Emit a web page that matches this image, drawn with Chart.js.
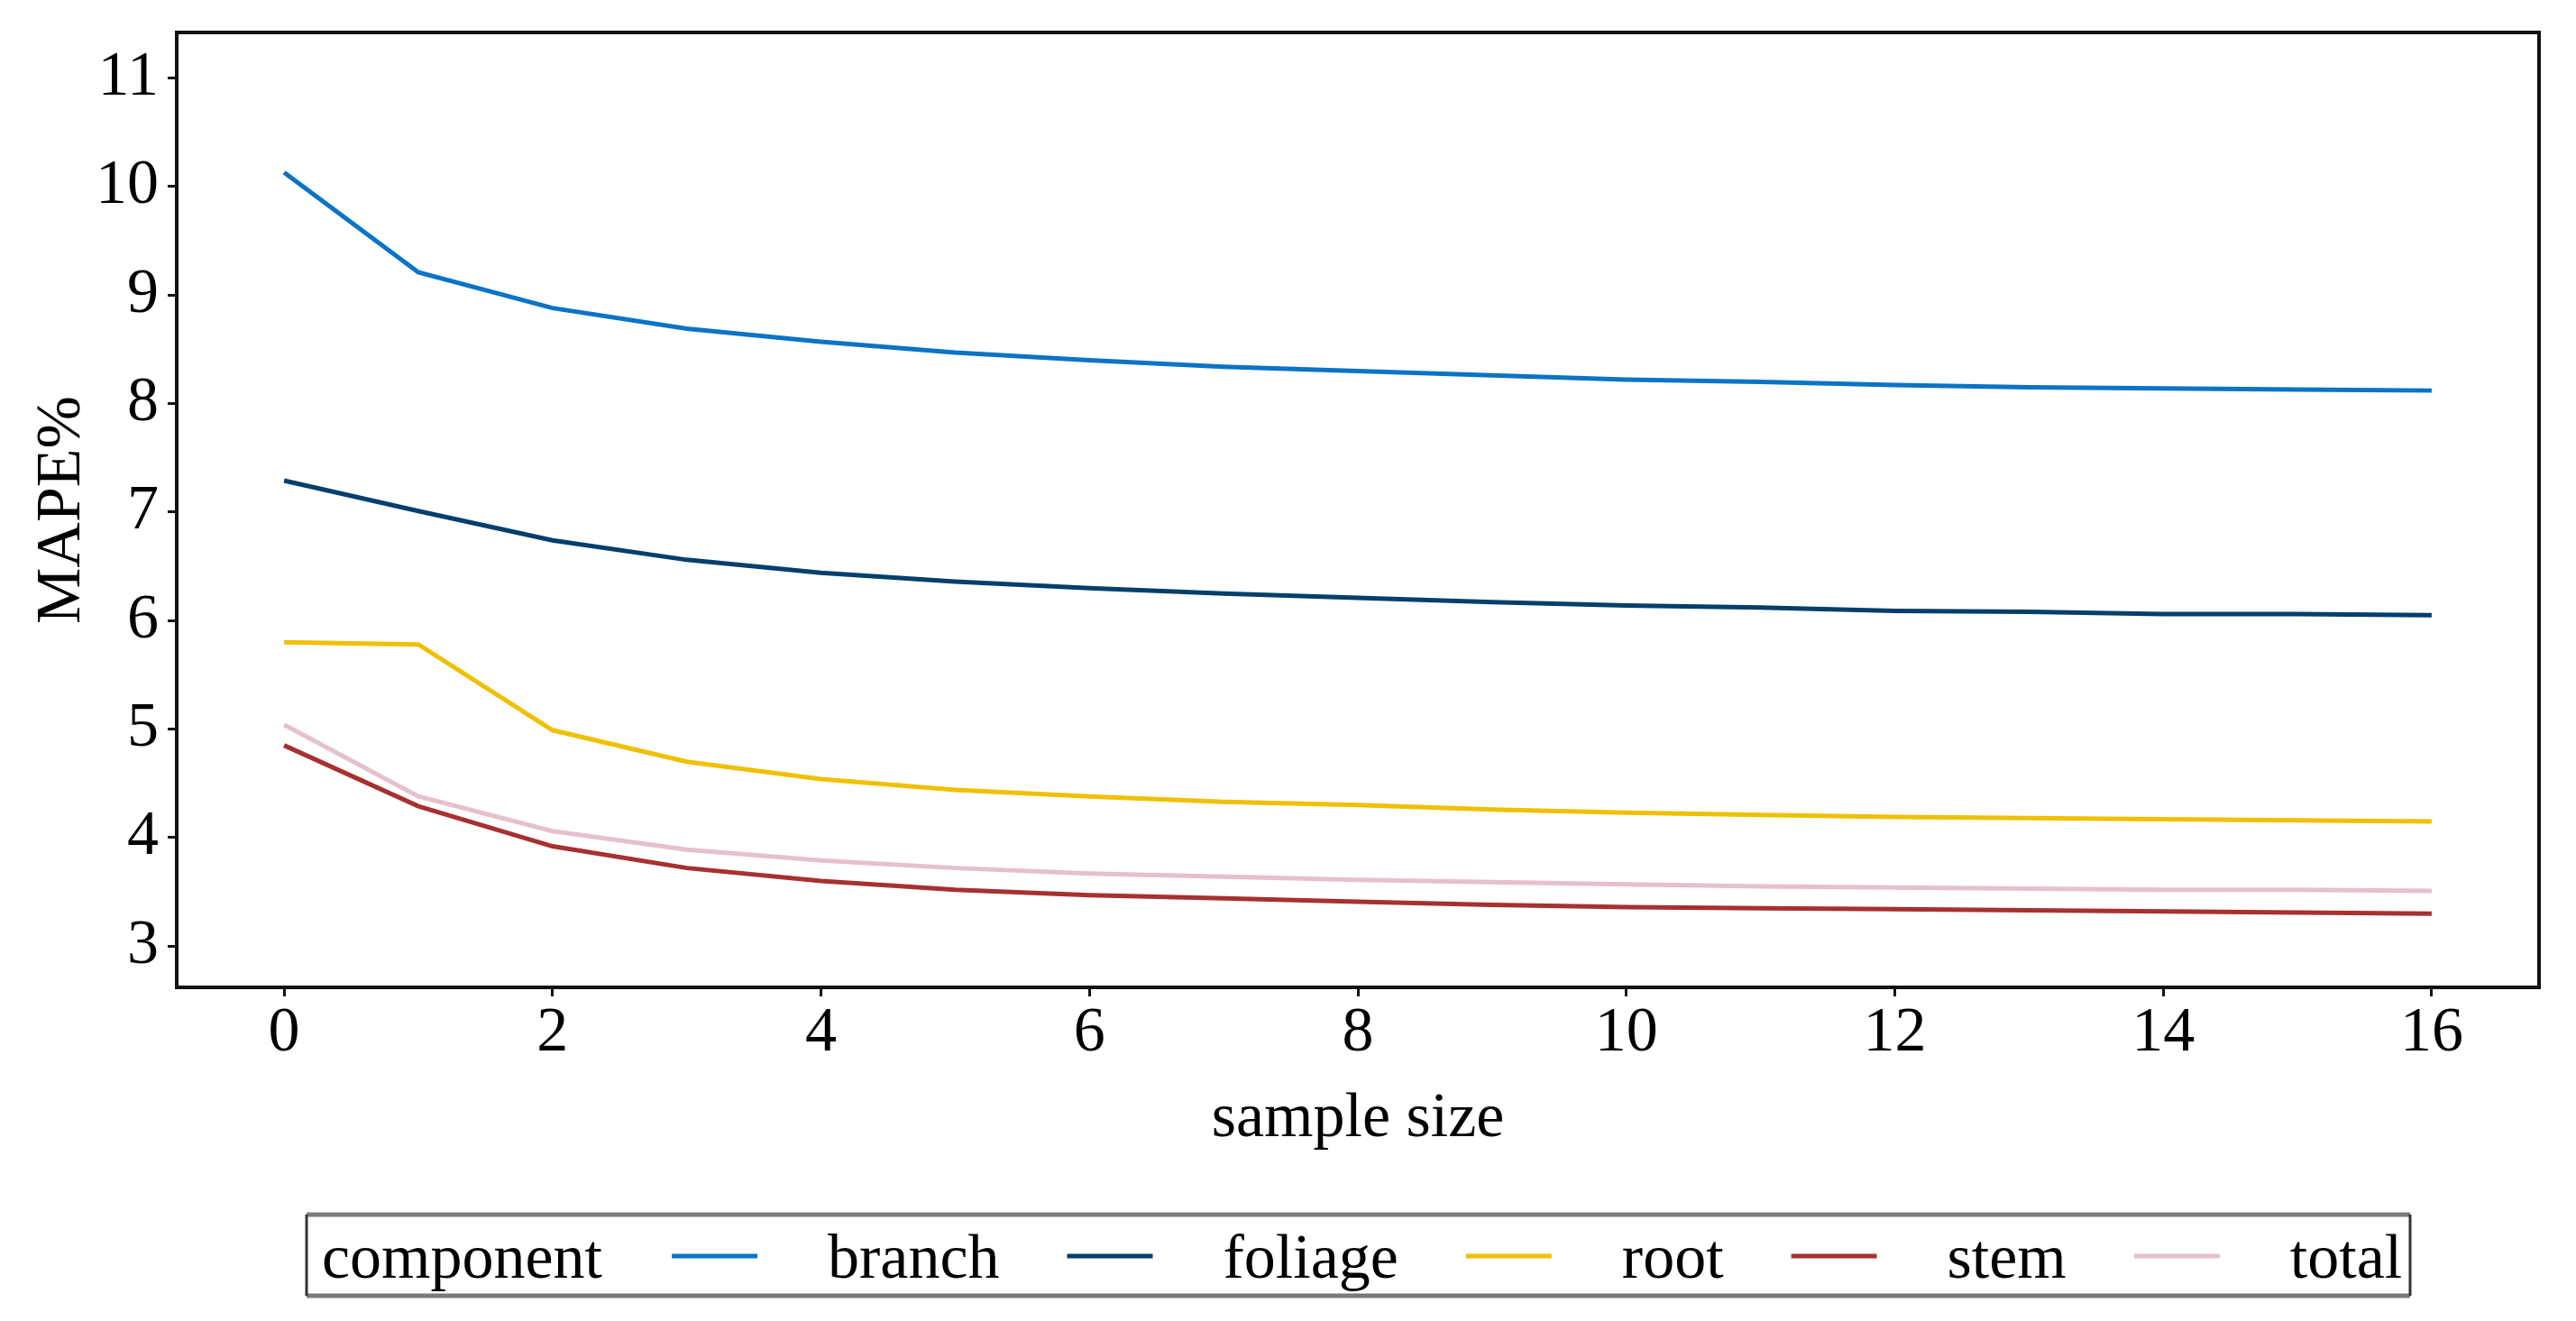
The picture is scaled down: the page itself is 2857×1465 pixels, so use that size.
<!DOCTYPE html>
<html>
<head>
<meta charset="utf-8">
<script src="https://cdn.jsdelivr.net/npm/chart.js@4.4.1/dist/chart.umd.min.js"></script>
<style>
  html, body { margin: 0; padding: 0; background: #fff; }
  #box { width: 2857px; height: 1465px; }
</style>
</head>
<body>
<div id="box"><canvas id="myChart" width="2857" height="1465"></canvas></div>
<script>
// sample size on x, MAPE% on y
let sampleSize = [0, 1, 2, 3, 4, 5, 6, 7, 8, 9, 10, 11, 12, 13, 14, 15, 16];
let branch  = [10.13, 9.21, 8.88, 8.69, 8.57, 8.47, 8.40, 8.34, 8.30, 8.26, 8.22, 8.20, 8.17, 8.15, 8.14, 8.13, 8.12];
let foliage = [7.29, 7.01, 6.74, 6.56, 6.44, 6.36, 6.30, 6.25, 6.21, 6.17, 6.14, 6.12, 6.09, 6.08, 6.06, 6.06, 6.05];
let root    = [5.80, 5.78, 4.99, 4.70, 4.54, 4.44, 4.38, 4.33, 4.30, 4.26, 4.23, 4.21, 4.19, 4.18, 4.17, 4.16, 4.15];
let stem    = [4.85, 4.29, 3.92, 3.72, 3.60, 3.52, 3.47, 3.44, 3.41, 3.38, 3.36, 3.35, 3.34, 3.33, 3.32, 3.31, 3.30];
let total   = [5.04, 4.38, 4.06, 3.89, 3.79, 3.72, 3.67, 3.64, 3.61, 3.59, 3.57, 3.55, 3.54, 3.53, 3.52, 3.52, 3.51];

let xTicks = [0, 2, 4, 6, 8, 10, 12, 14, 16];
let yTicks = [3, 4, 5, 6, 7, 8, 9, 10, 11];

const FONT = "'Liberation Serif', 'Times New Roman', serif";

function points(values) {
    return values.map((v, i) => ({ x: sampleSize[i], y: v }));
}

function line(label, values, color) {
    return {
        label: label,
        data: points(values),
        borderColor: color,
        backgroundColor: color,
        borderWidth: 5,
        pointRadius: 0,
        tension: 0,
        fill: false
    };
}

// black frame round the panel
const panelBorder = {
    id: 'panelBorder',
    afterDatasetsDraw(chart) {
        const a = chart.chartArea;
        const ctx = chart.ctx;
        ctx.save();
        ctx.strokeStyle = '#111';
        ctx.lineWidth = 4;
        ctx.strokeRect(a.left, a.top, a.right - a.left, a.bottom - a.top);
        ctx.restore();
    }
};

// ggplot-like legend in one row: title then key + label
const rowLegend = {
    id: 'rowLegend',
    afterDraw(chart) {
        const ctx = chart.ctx;
        const top = chart.chartArea.bottom + 252;
        const h = 90;
        const left = 340;
        const right = 2673;
        ctx.save();
        ctx.font = '70px ' + FONT;
        ctx.textBaseline = 'alphabetic';

        ctx.fillStyle = '#fff';
        ctx.fillRect(left, top, right - left, h);
        ctx.strokeStyle = '#7a7a7a';
        ctx.lineWidth = 5;
        ctx.beginPath();
        ctx.moveTo(left, top); ctx.lineTo(right, top);
        ctx.moveTo(left, top + h); ctx.lineTo(right, top + h);
        ctx.stroke();
        ctx.strokeStyle = '#333';
        ctx.lineWidth = 3;
        ctx.beginPath();
        ctx.moveTo(left, top); ctx.lineTo(left, top + h);
        ctx.moveTo(right, top); ctx.lineTo(right, top + h);
        ctx.stroke();

        ctx.fillStyle = '#000';
        const base = top + 70;
        let x = 357;
        ctx.fillText('component', x, base);
        x += ctx.measureText('component').width + 77;
        chart.data.datasets.forEach(ds => {
            ctx.strokeStyle = ds.borderColor;
            ctx.lineWidth = 5;
            ctx.beginPath();
            ctx.moveTo(x, top + 46);
            ctx.lineTo(x + 95, top + 46);
            ctx.stroke();
            x += 95 + 78;
            ctx.fillText(ds.label, x, base);
            x += ctx.measureText(ds.label).width + 75;
        });
        ctx.restore();
    }
};

new Chart(document.getElementById('myChart'), {
    type: 'line',
    data: {
        datasets: [
            line('branch', branch, '#0a74c6'),
            line('foliage', foliage, '#023f6c'),
            line('root', root, '#efc000'),
            line('stem', stem, '#a73030'),
            line('total', total, '#e6c0ca')
        ]
    },
    options: {
        responsive: false,
        animation: false,
        layout: { padding: { left: 28, right: 41, top: 36, bottom: 181 } },
        plugins: {
            legend: { display: false },
            tooltip: { enabled: false }
        },
        scales: {
            x: {
                type: 'linear',
                min: -0.8,
                max: 16.8,
                afterBuildTicks: s => { s.ticks = xTicks.map(v => ({ value: v })); },
                afterFit: s => { s.height = 189; s.paddingLeft = 0; s.paddingRight = 0; },
                border: { display: false },
                grid: { drawOnChartArea: false, drawTicks: true, tickLength: 10, tickColor: '#111', tickWidth: 3 },
                ticks: { color: '#000', padding: 0, maxRotation: 0, font: { family: FONT, size: 70 } },
                title: { display: true, text: 'sample size', color: '#000', padding: 0, font: { family: FONT, size: 70 } }
            },
            y: {
                min: 2.62,
                max: 11.42,
                afterBuildTicks: s => { s.ticks = yTicks.map(v => ({ value: v })); },
                afterFit: s => { s.width = 168; s.paddingTop = 0; s.paddingBottom = 0; },
                border: { display: false },
                grid: { drawOnChartArea: false, drawTicks: true, tickLength: 10, tickColor: '#111', tickWidth: 3 },
                ticks: { color: '#000', padding: 10, font: { family: FONT, size: 70 } },
                title: { display: true, text: 'MAPE%', color: '#000', padding: 0, font: { family: FONT, size: 70 } }
            }
        }
    },
    plugins: [panelBorder, rowLegend]
});
</script>
</body>
</html>
